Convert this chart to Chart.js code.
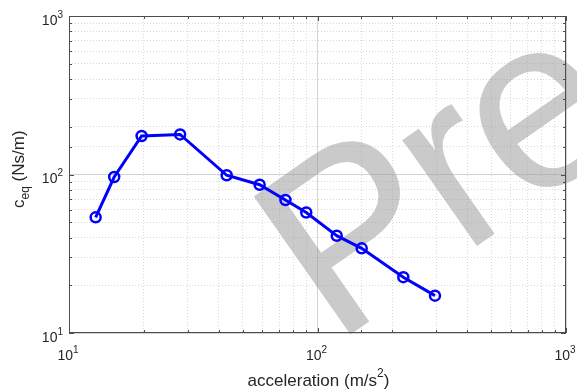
<!DOCTYPE html>
<html>
<head>
<meta charset="utf-8">
<script src="https://cdn.jsdelivr.net/npm/chart.js@4"></script>
<style>
   html, body { margin: 0; padding: 0; background: #fff; }
   #wrap { width: 577px; height: 391px; position: relative; }
</style>
</head>
<body>
<div id="wrap"><canvas id="chart" width="577" height="391"></canvas></div>
<script>
const acceleration = [12.8, 15.2, 19.6, 28.0, 43.1, 58.5, 74.3, 90.1, 119.5, 150.6, 221.5, 297]
const ceq = [53.7, 96.4, 175, 179, 98.9, 86.2, 69.0, 57.6, 41.1, 34.2, 22.5, 17.2]
const xRange = [10, 1000]
const yRange = [10, 1000]
const xTitle = 'acceleration (m/s'
const yTitle = ['c', 'eq', ' (Ns/m)']

const font = '"Liberation Sans", Arial, sans-serif'
const ink = '#262626'

const isDecade = v => Math.abs(Math.log10(v) - Math.round(Math.log10(v))) < 1e-9

// "10" plus a raised exponent, like the MATLAB labels
const drawPower = (ctx, v, x, y, align) => {
   const exp = String(Math.round(Math.log10(v)))
   ctx.font = '14px ' + font
   const wb = ctx.measureText('10').width
   ctx.font = '10px ' + font
   const we = ctx.measureText(exp).width
   let x0 = align === 'right' ? x - wb - we : x - (wb + we) / 2
   ctx.font = '14px ' + font
   ctx.fillText('10', x0, y)
   ctx.font = '10px ' + font
   ctx.fillText(exp, x0 + wb, y - 7)
}

// box, inner ticks, tick labels, axis titles and the watermark
const decor = {
   id: 'decor',
   beforeDatasetsDraw(chart) {
      const ctx = chart.ctx
      ctx.save()
      ctx.translate(334, 346)
      ctx.rotate(-35 * Math.PI / 180)
      ctx.font = '245px ' + font
      ctx.letterSpacing = '-6px'
      ctx.fillStyle = 'rgba(150,150,150,0.5)'
      ctx.textBaseline = 'alphabetic'
      ctx.fillText('Pre', 0, 0)
      ctx.restore()
   },
   afterDraw(chart) {
      const { ctx, chartArea: a, scales } = chart
      ctx.save()
      ctx.strokeStyle = '#4d4d4d'
      ctx.lineWidth = 1
      ctx.strokeRect(a.left + 0.5, a.top + 0.5, a.right - a.left - 1, a.bottom - a.top - 1)
      ctx.beginPath()
      scales.x.ticks.forEach(t => {
         const px = Math.round(scales.x.getPixelForValue(t.value)) + 0.5
         const len = isDecade(t.value) ? 5 : 3
         ctx.moveTo(px, a.bottom); ctx.lineTo(px, a.bottom - len)
         ctx.moveTo(px, a.top); ctx.lineTo(px, a.top + len)
      })
      scales.y.ticks.forEach(t => {
         const py = Math.round(scales.y.getPixelForValue(t.value)) + 0.5
         const len = isDecade(t.value) ? 5 : 3
         ctx.moveTo(a.left, py); ctx.lineTo(a.left + len, py)
         ctx.moveTo(a.right, py); ctx.lineTo(a.right - len, py)
      })
      ctx.stroke()

      ctx.fillStyle = ink
      ctx.textBaseline = 'alphabetic'
      ctx.textAlign = 'left'

      // tick labels at the decades
      scales.x.ticks.filter(t => isDecade(t.value)).forEach(t => {
         drawPower(ctx, t.value, scales.x.getPixelForValue(t.value) - 1, 360, 'center')
      })
      scales.y.ticks.filter(t => isDecade(t.value)).forEach(t => {
         drawPower(ctx, t.value, a.left - 6, scales.y.getPixelForValue(t.value) + 8.5, 'right')
      })

      // x title with superscript
      ctx.font = '17px ' + font
      const w1 = ctx.measureText(xTitle).width
      ctx.font = '12px ' + font
      const w2 = ctx.measureText('2').width
      ctx.font = '17px ' + font
      const w3 = ctx.measureText(')').width
      let x0 = (a.left + a.right) / 2 - (w1 + w2 + w3) / 2 + 1
      ctx.fillText(xTitle, x0, 385.5)
      ctx.font = '12px ' + font
      ctx.fillText('2', x0 + w1, 377)
      ctx.font = '17px ' + font
      ctx.fillText(')', x0 + w1 + w2, 385.5)

      // y title with subscript
      ctx.translate(23.5, 208)
      ctx.rotate(-Math.PI / 2)
      ctx.font = '17px ' + font
      ctx.fillText(yTitle[0], 0, 0)
      let u = ctx.measureText(yTitle[0]).width
      ctx.font = '12px ' + font
      ctx.fillText(yTitle[1], u, 5)
      u += ctx.measureText(yTitle[1]).width
      ctx.font = '17px ' + font
      ctx.fillText(yTitle[2], u, 0)
      ctx.restore()
   }
}

const gridStyle = {
   color: ctx => isDecade(ctx.tick.value) ? '#d4d4d4' : '#d9d9d9',
   lineWidth: 1,
   drawTicks: false
}
const borderStyle = {
   display: false,
   dash: ctx => isDecade(ctx.tick.value) ? [] : [1, 2]
}

new Chart(document.getElementById('chart'), {
   type: 'scatter',
   data: {
      datasets: [{
         data: acceleration.map((x, i) => ({ x, y: ceq[i] })),
         showLine: true,
         borderColor: '#0000ff',
         borderWidth: 3,
         pointRadius: 5,
         pointBorderWidth: 2.5,
         pointBorderColor: '#0000ff',
         pointBackgroundColor: 'rgba(0,0,0,0)',
         pointHoverRadius: 5
      }]
   },
   options: {
      responsive: false,
      animation: false,
      events: [],
      layout: { padding: { top: 16, right: 11, left: 0, bottom: 0 } },
      plugins: { legend: { display: false }, tooltip: { enabled: false } },
      scales: {
         x: {
            type: 'logarithmic',
            min: xRange[0],
            max: xRange[1],
            grid: gridStyle,
            border: borderStyle,
            afterFit: s => { s.height = 58 },
            ticks: { autoSkip: false, display: false }
         },
         y: {
            type: 'logarithmic',
            min: yRange[0],
            max: yRange[1],
            grid: gridStyle,
            border: borderStyle,
            afterFit: s => { s.width = 69 },
            ticks: { autoSkip: false, display: false }
         }
      }
   },
   plugins: [decor]
})
</script>
</body>
</html>
